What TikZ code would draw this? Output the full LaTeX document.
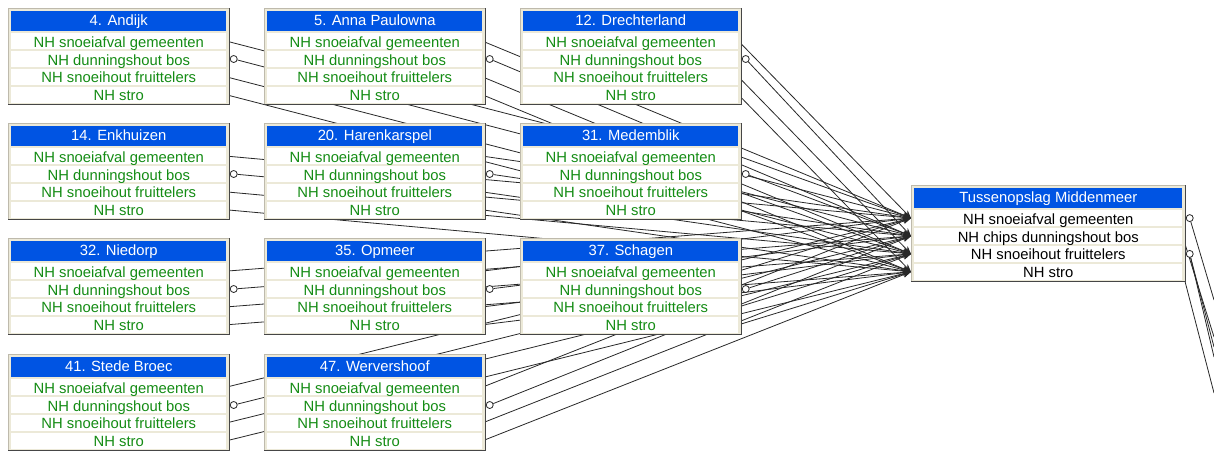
\documentclass[tikz,border=0pt]{standalone}
\usepackage{fontspec}
\setmainfont{Liberation Sans}
\usetikzlibrary{positioning, arrows.meta}
\definecolor{tabBlue}{RGB}{0,84,227}
\definecolor{tabGreen}{RGB}{20,140,20}
\definecolor{tabBeige}{RGB}{236,233,216}
\definecolor{tabEdge}{RGB}{190,186,172}
\definecolor{tabShade}{RGB}{70,70,70}
\definecolor{tabLine}{RGB}{40,40,40}
\pgfdeclarelayer{achter}
\pgfdeclarelayer{lijnen}
\pgfsetlayers{achter,lijnen,main}

\tikzset{
  tabframe/.style={draw=tabEdge, line width=0.6pt, fill=tabBeige, minimum height=96pt, inner sep=0pt},
  tabshade/.style={draw=tabShade, line width=1.5pt},
  tabhead/.style={fill=tabBlue, text=white, minimum height=20pt, inner sep=0pt, text height=12pt, text depth=4pt, font=\fontsize{14.8}{16}\selectfont},
  tabrow/.style={fill=white, minimum height=16pt, inner sep=0pt, text height=12pt, text depth=0pt, font=\fontsize{14.8}{16}\selectfont},
  kringetje/.style={circle, draw=tabLine, fill=white, line width=0.8pt, minimum size=7pt, inner sep=0pt},
  relatie/.style={draw=tabLine, line width=0.8pt},
  naar/.style={relatie, -{Stealth[length=8pt, width=6pt]}}
}

\newcommand{\bronvelden}{NH snoeiafval gemeenten, NH dunningshout bos, NH snoeihout fruittelers, NH stro}
\newcommand{\doelvelden}{NH snoeiafval gemeenten, NH chips dunningshout bos, NH snoeihout fruittelers, NH stro}

% tabel: id, linksboven, breedte, titel, velden, tekstkleur
\newcommand{\tabel}[6]{
  \node[tabframe, minimum width=#3, anchor=north west] (#1) at #2 {};
  \draw[tabshade] (#1.north east) -- (#1.south east) -- (#1.south west);
  \node[tabhead, minimum width=#3-6pt, below=3pt of #1.north] (#1-0) {#4};
  \foreach \veld [count=\i] in #5 {
    \pgfmathtruncatemacro{\j}{\i-1}
    \node[tabrow, text=#6, minimum width=#3-6pt, below=1.5pt of #1-\j] (#1-\i) {\veld};
  }
}

\begin{document}
\begin{tikzpicture}[x=1pt, y=-1pt]
  \useasboundingbox (0,0) rectangle (1214,451);
  \begin{pgfonlayer}{achter}
    \fill[white] (0,0) rectangle (1214,451);
  \end{pgfonlayer}

  % gemeenten
  \tabel{and}{(8,8)}{221pt}{4. Andijk}{\bronvelden}{tabGreen}
  \tabel{anp}{(264,8)}{221pt}{5. Anna Paulowna}{\bronvelden}{tabGreen}
  \tabel{dre}{(520,8)}{221pt}{12. Drechterland}{\bronvelden}{tabGreen}
  \tabel{enk}{(8,123)}{221pt}{14. Enkhuizen}{\bronvelden}{tabGreen}
  \tabel{har}{(264,123)}{221pt}{20. Harenkarspel}{\bronvelden}{tabGreen}
  \tabel{med}{(520,123)}{221pt}{31. Medemblik}{\bronvelden}{tabGreen}
  \tabel{nie}{(8,238)}{221pt}{32. Niedorp}{\bronvelden}{tabGreen}
  \tabel{opm}{(264,238)}{221pt}{35. Opmeer}{\bronvelden}{tabGreen}
  \tabel{sch}{(520,238)}{221pt}{37. Schagen}{\bronvelden}{tabGreen}
  \tabel{ste}{(8,354)}{221pt}{41. Stede Broec}{\bronvelden}{tabGreen}
  \tabel{wer}{(264,354)}{221pt}{47. Wervershoof}{\bronvelden}{tabGreen}

  % tussenopslag
  \tabel{tus}{(911,185)}{274pt}{Tussenopslag Middenmeer}{\doelvelden}{black}

  % relaties naar de tussenopslag
  \foreach \g in {and,anp,dre,enk,har,med,nie,opm,sch,ste,wer} {
    \node[kringetje, right=3.3pt of \g-2] (\g-o) {};
    \begin{pgfonlayer}{lijnen}
      \draw[naar] (\g-1.east) -- (tus.west |- tus-1);
      \draw[naar] (\g-o) -- (tus.west |- tus-2);
      \draw[naar] (\g-3.east) -- (tus.west |- tus-3);
      \draw[naar] (\g-4.east) -- (tus.west |- tus-4);
    \end{pgfonlayer}
  }

  % relaties verder naar rechts
  \node[kringetje, right=3.3pt of tus-1] (tus-o1) {};
  \node[kringetje, right=3.3pt of tus-3] (tus-o3) {};
  \coordinate (uit-1) at (1214,300);
  \coordinate (uit-2) at (1214,337);
  \coordinate (uit-3) at (1214,347);
  \coordinate (uit-4) at (1214,357);
  \coordinate (uit-5) at (1214,393);
  \begin{pgfonlayer}{lijnen}
    \draw[relatie] (tus-o1) -- (uit-1);
    \draw[relatie] (tus-2.east) -- (uit-2);
    \draw[relatie] (tus-o3) -- (uit-3);
    \draw[relatie] (tus-o3) -- (uit-4);
    \draw[relatie] (tus-4.east) -- (uit-5);
  \end{pgfonlayer}
\end{tikzpicture}
\end{document}
